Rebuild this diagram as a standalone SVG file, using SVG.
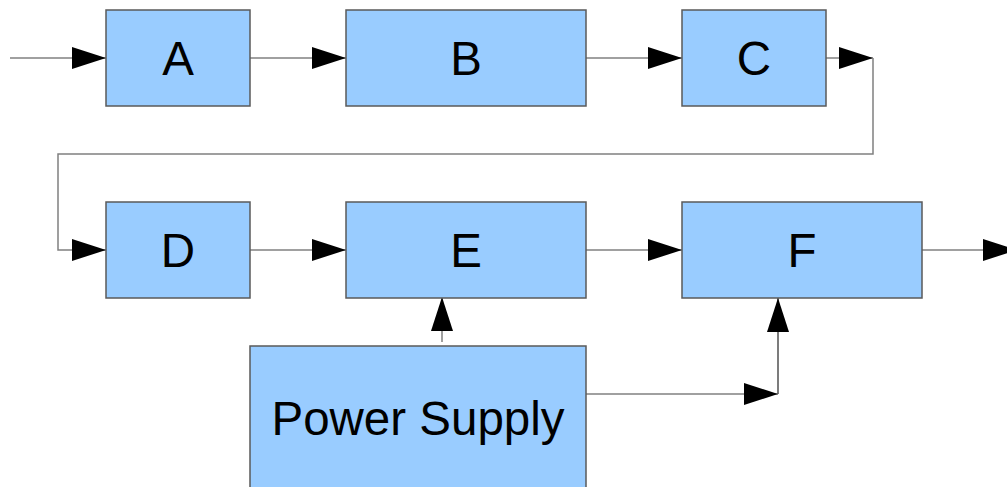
<svg xmlns="http://www.w3.org/2000/svg" width="1007" height="487" viewBox="0 0 1007 487">
<style>
.box{fill:#99ccff;stroke:#5a5a5a;stroke-width:1.5}
.lbl{font-family:"Liberation Sans",Arial,sans-serif;font-size:47.5px;fill:#000;text-anchor:middle}
.c{fill:none;stroke:#808080;stroke-width:1.5}
.d{stroke:#505050}
</style>
<defs>
<marker id="ah" markerUnits="userSpaceOnUse" viewBox="0 0 34 22" refX="34" refY="11" markerWidth="34" markerHeight="22" orient="auto">
<path d="M0,0 L34,11 L0,22 Z" fill="#000"/>
</marker>
</defs>
<g id="connectors">
<line class="c" x1="10" y1="58" x2="106" y2="58" marker-end="url(#ah)"/>
<line class="c" x1="250" y1="58" x2="346" y2="58" marker-end="url(#ah)"/>
<line class="c" x1="586" y1="58" x2="682" y2="58" marker-end="url(#ah)"/>
<line class="c" x1="826" y1="58" x2="873" y2="58" marker-end="url(#ah)"/>
<polyline class="c" points="873,58 873,154 58,154 58,250 106,250" marker-end="url(#ah)"/>
<line class="c" x1="250" y1="250" x2="346" y2="250" marker-end="url(#ah)"/>
<line class="c" x1="586" y1="250" x2="682" y2="250" marker-end="url(#ah)"/>
<line class="c" x1="922" y1="250" x2="1017" y2="250" marker-end="url(#ah)"/>
<line class="c" x1="442" y1="342" x2="442" y2="297" marker-end="url(#ah)"/>
<line class="c" x1="586" y1="394" x2="778" y2="394" marker-end="url(#ah)"/>
<line class="c d" x1="778" y1="394" x2="778" y2="298" marker-end="url(#ah)"/>
</g>
<g id="A"><rect class="box" x="106" y="10" width="144" height="96"/><text class="lbl" x="178" y="75">A</text></g>
<g id="B"><rect class="box" x="346" y="10" width="240" height="96"/><text class="lbl" x="466" y="75">B</text></g>
<g id="C"><rect class="box" x="682" y="10" width="144" height="96"/><text class="lbl" x="754" y="75">C</text></g>
<g id="D"><rect class="box" x="106" y="202" width="144" height="96"/><text class="lbl" x="178" y="267">D</text></g>
<g id="E"><rect class="box" x="346" y="202" width="240" height="96"/><text class="lbl" x="466" y="267">E</text></g>
<g id="F"><rect class="box" x="682" y="202" width="240" height="96"/><text class="lbl" x="802" y="267">F</text></g>
<g id="PowerSupply"><rect class="box" x="250" y="346" width="336" height="160"/><text class="lbl" x="418" y="435">Power Supply</text></g>
</svg>
